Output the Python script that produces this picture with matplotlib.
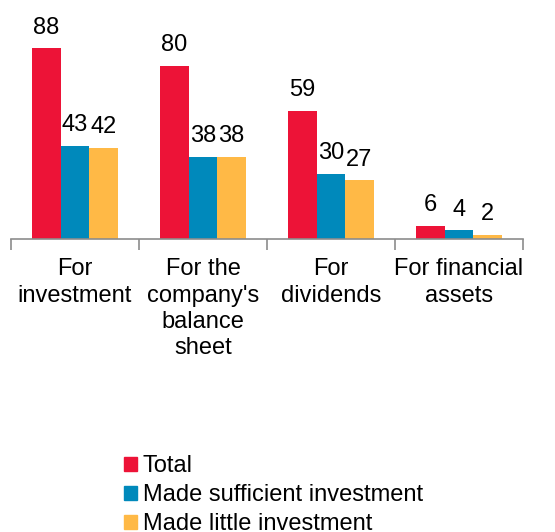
import numpy as np
import matplotlib.pyplot as plt
from matplotlib.patches import Patch

plt.rcParams['font.family'] = ['Liberation Sans', 'DejaVu Sans']

categories = ["For\ninvestment", "For the\ncompany's\nbalance\nsheet", "For\ndividends", "For financial\nassets"]
series_names = ["Total", "Made sufficient investment", "Made little investment"]
total = [88, 80, 59, 6]
sufficient = [43, 38, 30, 4]
little = [42, 38, 27, 2]
colors = ["#ED1337", "#0089BB", "#FFB946"]

fs = 17

fig = plt.figure(figsize=(5.55, 5.32), dpi=100)
ax = fig.add_axes([11/555, 1 - 239/532, 512/555, 239/532])

x = np.arange(len(categories))
w = 0.222
for i, (vals, c) in enumerate(zip([total, sufficient, little], colors)):
    pos = x + (i - 1) * w
    ax.bar(pos, vals, width=w, color=c, edgecolor='none')
    for p, v in zip(pos, vals):
        ax.annotate(str(v), (p, v), xytext=(0, 7), textcoords='offset points',
                    ha='center', va='bottom', fontsize=fs)

ax.set_xlim(-0.5, 3.5)
ax.set_ylim(0, 110.3)
for s in ['top', 'right', 'left']:
    ax.spines[s].set_visible(False)
ax.spines['bottom'].set_color('#8C8C8C')
ax.spines['bottom'].set_linewidth(1.2)
ax.set_yticks([])
ax.set_xticks(np.arange(-0.5, 4, 1))
ax.set_xticklabels([])
ax.tick_params(axis='x', which='major', length=8, color='#8C8C8C', width=1.2)
ax.set_xticks(x, minor=True)
ax.set_xticklabels(categories, minor=True, fontsize=fs, linespacing=1.25, va='top')
ax.tick_params(axis='x', which='minor', length=0, pad=14)

handles = [Patch(color=c) for c in colors]
fig.legend(handles, series_names, loc='upper left', bbox_to_anchor=(124/555, 1 - 455/532),
           frameon=False, fontsize=fs, handlelength=0.55, handleheight=0.55,
           handletextpad=0.25, labelspacing=0.3, borderaxespad=0, borderpad=0)

fig.savefig('out.png', dpi=100)
